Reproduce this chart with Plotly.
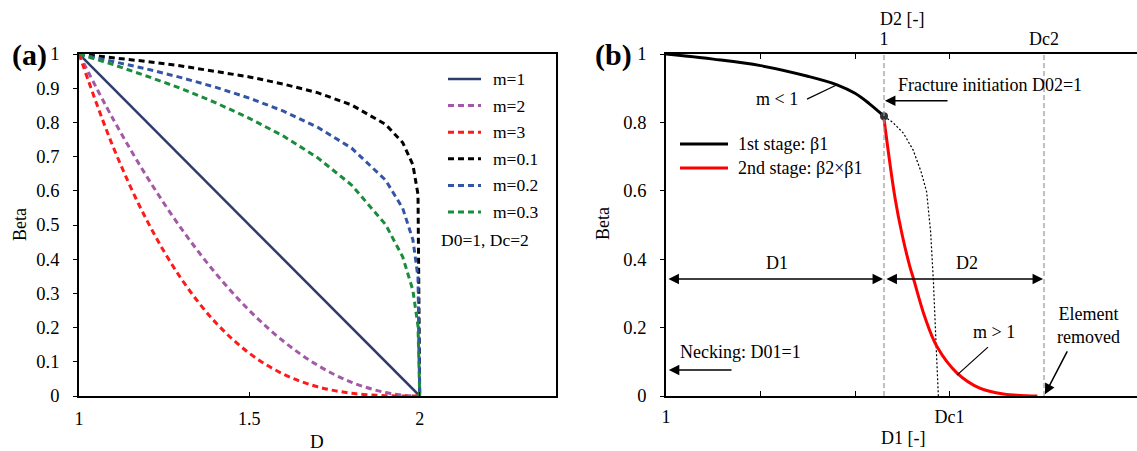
import plotly.graph_objects as go

# ---------------- Panel (a) data ----------------
D_vals = [1.0, 1.1, 1.2, 1.3, 1.4, 1.5, 1.6, 1.7, 1.8, 1.9, 1.95, 1.98, 1.995, 2.0]
beta_m1 = [1.0, 0.9, 0.8, 0.7, 0.6, 0.5, 0.4, 0.3, 0.2, 0.1, 0.05, 0.02, 0.005, 0.0]
beta_m2 = [1.0, 0.81, 0.64, 0.49, 0.36, 0.25, 0.16, 0.09, 0.04, 0.01, 0.0025, 0.0004, 0.0, 0.0]
beta_m3 = [1.0, 0.729, 0.512, 0.343, 0.216, 0.125, 0.064, 0.027, 0.008, 0.001, 0.0001, 0.0, 0.0, 0.0]
beta_m01 = [1.0, 0.990, 0.978, 0.965, 0.950, 0.933, 0.912, 0.887, 0.851, 0.794, 0.741, 0.676, 0.589, 0.0]
beta_m02 = [1.0, 0.979, 0.956, 0.931, 0.903, 0.871, 0.833, 0.786, 0.725, 0.631, 0.549, 0.457, 0.347, 0.0]
beta_m03 = [1.0, 0.969, 0.935, 0.899, 0.858, 0.812, 0.760, 0.697, 0.617, 0.501, 0.407, 0.309, 0.204, 0.0]
series_a = [
    ("m=1", beta_m1, "#2f3b6b", "solid", 2.5),
    ("m=2", beta_m2, "#a35aa6", "6px,4px", 3),
    ("m=3", beta_m3, "#ff1a1a", "6px,4px", 3),
    ("m=0.1", beta_m01, "#000000", "6px,4px", 3),
    ("m=0.2", beta_m02, "#3355a5", "6px,4px", 3),
    ("m=0.3", beta_m03, "#1a8c3c", "6px,4px", 3),
]
a_ticks = [1, 1.5, 2]
a_yticks = [0, 0.1, 0.2, 0.3, 0.4, 0.5, 0.6, 0.7, 0.8, 0.9, 1]

# ---------------- Panel (b) data ----------------
stage1_x = [0.0, 0.5, 1.0, 1.5, 1.81, 2.0, 2.15, 2.307]
stage1_y = [1.0, 0.985, 0.966, 0.935, 0.91, 0.885, 0.855, 0.818]
ext_x = [2.307, 2.40, 2.511, 2.614, 2.70, 2.758, 2.80, 2.829, 2.855, 2.882]
ext_y = [0.818, 0.800, 0.769, 0.72, 0.655, 0.597, 0.48, 0.339, 0.17, 0.0]
stage2_x = [2.307, 2.423, 2.50, 2.582, 2.617, 2.74, 2.87, 3.08, 3.32, 3.57, 3.93]
stage2_y = [0.81, 0.58, 0.47, 0.377, 0.345, 0.23, 0.143, 0.067, 0.023, 0.006, 0.0]
series_b = [
    ("1st stage: β1", stage1_x, stage1_y, "#000000"),
    ("2nd stage: β2×β1", stage2_x, stage2_y, "#ff0000"),
]
D02_pos = 2.307
Dc2_pos = 4.0
b_yticks = [0, 0.2, 0.4, 0.6, 0.8, 1]
b_bottom_ticks = [0, 1, 2, 3]
b_bottom_text = ["1", "", "", "Dc1"]
b_top_ticks = [D02_pos, Dc2_pos]
b_top_text = ["1", "Dc2"]

FONT = "Liberation Serif"
W, H = 1137, 451

def px_x(p):
    return p / W

def px_y(p):
    return (H - p) / H

fig = go.Figure()

for name, ys, col, dash, w in series_a:
    fig.add_trace(go.Scatter(
        x=D_vals, y=ys, mode="lines", name=name, showlegend=False,
        line=dict(color=col, dash=dash, width=w,
                  shape="spline" if name in ("m=2", "m=3") else "linear"),
        xaxis="x", yaxis="y"))

fig.add_trace(go.Scatter(x=ext_x, y=ext_y, mode="lines", showlegend=False,
                         line=dict(color="black", dash="2px,2px", width=1.2),
                         xaxis="x2", yaxis="y2"))
for name, xs, ys, col in series_b:
    fig.add_trace(go.Scatter(x=xs, y=ys, mode="lines", name=name, showlegend=False,
                             line=dict(color=col, width=3, shape="spline"),
                             xaxis="x2", yaxis="y2"))
fig.add_trace(go.Scatter(x=[stage1_x[-1]], y=[stage1_y[-1]], mode="markers", showlegend=False,
                         marker=dict(color="#333333", size=8),
                         xaxis="x2", yaxis="y2"))
# invisible helper trace so the top axis (xaxis3) is drawn
fig.add_trace(go.Scatter(x=[0], y=[0], mode="markers", marker=dict(opacity=0), showlegend=False,
                         hoverinfo="skip", xaxis="x3", yaxis="y2"))

ytickfont = dict(family=FONT, size=18.5, color="black")
xtickfont = dict(family=FONT, size=18, color="black")
ydom = [px_y(396), px_y(54)]

fig.update_layout(
    width=W, height=H,
    margin=dict(l=0, r=0, t=0, b=0, pad=0, autoexpand=False),
    plot_bgcolor="white", paper_bgcolor="white",
    font=dict(family=FONT, size=18, color="black"),
    showlegend=False,
    xaxis=dict(domain=[px_x(79), px_x(556)], range=[1, 2.4], tickvals=a_ticks,
               ticktext=["1", "1.5", "2"], ticks="inside", ticklen=4, tickcolor="black",
               showline=True, linecolor="black", linewidth=1.8, mirror=True,
               showgrid=False, zeroline=False, tickfont=xtickfont, anchor="y",
               ticklabelstandoff=5, automargin=False),
    yaxis=dict(domain=ydom, range=[0, 1], tickvals=a_yticks,
               ticktext=["0", "0.1", "0.2", "0.3", "0.4", "0.5", "0.6", "0.7", "0.8", "0.9", "1"],
               ticks="outside", ticklen=4, tickcolor="black",
               showline=True, linecolor="black", linewidth=1.8, mirror=True,
               showgrid=False, zeroline=False, tickfont=ytickfont, anchor="x",
               ticklabelstandoff=10, automargin=False),
    xaxis2=dict(domain=[px_x(666), 1.0], range=[0, 4.984], tickvals=b_bottom_ticks,
                ticktext=b_bottom_text, ticks="inside", ticklen=5, tickcolor="black",
                showline=True, linecolor="black", linewidth=1.8, mirror="ticks",
                showgrid=False, zeroline=False, tickfont=xtickfont,
                anchor="y2", ticklabelstandoff=3, automargin=False),
    xaxis3=dict(domain=[px_x(666), 1.0], range=[0, 4.984], overlaying="x2", side="top",
                tickvals=b_top_ticks, ticktext=b_top_text, ticks="", showline=False,
                showgrid=False, zeroline=False, tickfont=xtickfont,
                anchor="y2", ticklabelstandoff=4, automargin=False),
    yaxis2=dict(domain=ydom, range=[0, 1], tickvals=b_yticks,
                ticktext=["0", "0.2", "0.4", "0.6", "0.8", "1"],
                ticks="outside", ticklen=4, tickcolor="black",
                showline=True, linecolor="black", linewidth=1.8, mirror=False,
                showgrid=False, zeroline=False, tickfont=ytickfont,
                anchor="x2", ticklabelstandoff=10, automargin=False),
)

shapes = []
ann = []

def text(x, y, s, xref, yref, size=18, xanchor="center", bold=False, angle=0):
    ann.append(dict(x=x, y=y, xref=xref, yref=yref, text=("<b>%s</b>" % s) if bold else s,
                    showarrow=False, xanchor=xanchor, yanchor="middle", textangle=angle,
                    font=dict(family=FONT, size=size, color="black")))

# legend (a): samples drawn as paper-coordinate line shapes with text
for i, (name, ys, col, dash, w) in enumerate(series_a):
    yy = px_y(79 + i * 26.6)
    shapes.append(dict(type="line", xref="paper", yref="paper", x0=px_x(448), x1=px_x(481),
                       y0=yy, y1=yy, line=dict(color=col, dash=dash, width=w)))
    text(px_x(491), yy, name, "paper", "paper", size=17.5, xanchor="left")
text(px_x(439), px_y(240), "D0=1, Dc=2", "paper", "paper", size=17.5, xanchor="left")

# legend (b)
for i, (name, xs, ys, col) in enumerate(series_b):
    yy = px_y(144 + i * 24)
    shapes.append(dict(type="line", xref="paper", yref="paper", x0=px_x(680), x1=px_x(728),
                       y0=yy, y1=yy, line=dict(color=col, width=3)))
    text(px_x(736), yy, name, "paper", "paper", size=18, xanchor="left")

for xv in [D02_pos, Dc2_pos]:
    shapes.append(dict(type="line", xref="x2", yref="y2", x0=xv, x1=xv, y0=0, y1=1,
                       line=dict(color="#999999", width=1.2, dash="5px,3px")))
# leader lines
shapes.append(dict(type="line", xref="x2", yref="y2", x0=1.492, y0=0.868, x1=1.81, y1=0.91,
                   line=dict(color="black", width=1.2)))
shapes.append(dict(type="line", xref="x2", yref="y2", x0=3.407, y0=0.143, x1=3.079, y1=0.061,
                   line=dict(color="black", width=1.2)))
fig.update_layout(shapes=shapes)

def arrow(x0, y0, x1, y1, both=False):
    ann.append(dict(x=x1, y=y1, ax=x0, ay=y0, xref="x2", yref="y2", axref="x2", ayref="y2",
                    text="", showarrow=True, arrowhead=2, arrowsize=1.4, arrowwidth=1.5,
                    arrowcolor="black", arrowside="end+start" if both else "end",
                    startarrowhead=2, startarrowsize=1.4))

text(px_x(29), px_y(55), "(a)", "paper", "paper", size=30, bold=True)
text(px_x(613), px_y(55), "(b)", "paper", "paper", size=30, bold=True)
text(px_x(317), px_y(441), "D", "paper", "paper", size=19)
text(px_x(20), px_y(225), "Beta", "paper", "paper", size=18, angle=-90)
text(px_x(603), px_y(224), "Beta", "paper", "paper", size=18, angle=-90)
text(px_x(903), px_y(438), "D1 [-]", "paper", "paper", size=18)
text(px_x(902), px_y(19), "D2 [-]", "paper", "paper", size=18)

text(1.175, 0.868, "m < 1", "x2", "y2")
text(2.434, 0.909, "Fracture initiation D02=1", "x2", "y2", xanchor="left")
text(1.175, 0.39, "D1", "x2", "y2")
text(3.185, 0.39, "D2", "x2", "y2")
text(0.127, 0.129, "Necking: D01=1", "x2", "y2", xanchor="left")
text(3.471, 0.187, "m > 1", "x2", "y2")
text(4.466, 0.205, "Element<br>removed", "x2", "y2")

arrow(2.995, 0.863, D02_pos + 0.01, 0.863)
arrow(0.709, 0.076, 0.03, 0.076)
arrow(0.01, 0.342, D02_pos - 0.01, 0.342, both=True)
arrow(D02_pos + 0.01, 0.342, Dc2_pos - 0.01, 0.342, both=True)
arrow(4.254, 0.135, 4.01, 0.005)

fig.update_layout(annotations=ann)

fig.write_html("out.html")
